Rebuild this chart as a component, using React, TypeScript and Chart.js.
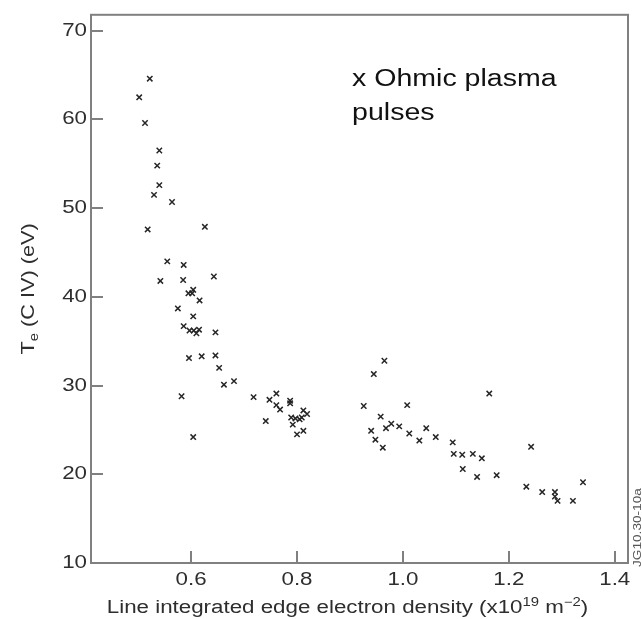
import React, { useEffect, useRef } from "react";
import { Chart, registerables } from "chart.js";

Chart.register(...registerables);

// ---- axis settings ----
const X_TICKS = [0.6, 0.8, 1.0, 1.2, 1.4];
const Y_TICKS = [10, 20, 30, 40, 50, 60, 70];
const X_MIN = 0.411;
const X_MAX = 1.425;
const Y_MIN = 10;
const Y_MAX = 71.8;

// ---- data: line integrated edge electron density (x1e19 m^-2) vs Te (eV) ----
const densityLow = [
  0.522, 0.502, 0.513, 0.54, 0.536, 0.54, 0.53, 0.564, 0.518, 0.626, 0.555, 0.586,
  0.542, 0.585, 0.643, 0.604, 0.595, 0.602, 0.616, 0.575, 0.604, 0.586, 0.597, 0.605,
  0.61, 0.615, 0.646, 0.596, 0.62, 0.646, 0.653, 0.662, 0.681, 0.582, 0.604,
];
const teLow = [
  64.6, 62.5, 59.6, 56.5, 54.8, 52.6, 51.5, 50.7, 47.6, 47.9, 44.0, 43.6,
  41.8, 41.9, 42.3, 40.8, 40.4, 40.4, 39.6, 38.7, 37.8, 36.7, 36.2, 36.2,
  35.9, 36.3, 36.0, 33.1, 33.3, 33.4, 32.0, 30.1, 30.5, 28.8, 24.2,
];

const densityMid = [
  0.718, 0.748, 0.761, 0.761, 0.768, 0.787, 0.787, 0.741, 0.812, 0.819, 0.789, 0.797,
  0.805, 0.809, 0.792, 0.812, 0.8,
];
const teMid = [
  28.7, 28.4, 29.1, 27.8, 27.3, 28.3, 28.0, 26.0, 27.2, 26.8, 26.4, 26.3,
  26.2, 26.4, 25.6, 24.9, 24.5,
];

const densityHigh = [
  0.965, 0.945, 0.926, 1.008, 0.958, 0.94, 0.968, 0.978, 0.993, 0.948, 0.962, 1.012,
  1.031, 1.044, 1.062, 1.094, 1.096, 1.112, 1.132, 1.149, 1.113, 1.14, 1.177, 1.163,
  1.242, 1.233, 1.263, 1.287, 1.287, 1.292, 1.321, 1.34,
];
const teHigh = [
  32.8, 31.3, 27.7, 27.8, 26.5, 24.9, 25.2, 25.7, 25.4, 23.9, 23.0, 24.6,
  23.8, 25.2, 24.2, 23.6, 22.3, 22.2, 22.3, 21.8, 20.6, 19.7, 19.9, 29.1,
  23.1, 18.6, 18.0, 18.0, 17.5, 17.0, 17.0, 19.1,
];

const ANNOTATION_LINES = ["x Ohmic plasma", "pulses"];
const ANNOTATION_X = 0.904;
const ANNOTATION_Y = [63.8, 59.9];
const FIGURE_ID = "JG10.30-10a";

// ---- style ----
const FONT = '"Liberation Sans", Arial, Helvetica, sans-serif';
const TEXT_COLOR = "#2e2e2e";
const AXIS_COLOR = "#808080";
const MARK_COLOR = "#262626";
const TEXT_STRETCH = 1.24;
const TICK_LEN = 12;

type Part = { t: string; size: number; dy: number };

function drawRich(ctx: CanvasRenderingContext2D, parts: Part[], x: number, y: number) {
  let cx = x;
  for (const p of parts) {
    ctx.font = `${p.size}px ${FONT}`;
    ctx.fillText(p.t, cx, y + p.dy);
    cx += ctx.measureText(p.t).width;
  }
}

function richWidth(ctx: CanvasRenderingContext2D, parts: Part[]) {
  let w = 0;
  for (const p of parts) {
    ctx.font = `${p.size}px ${FONT}`;
    w += ctx.measureText(p.t).width;
  }
  return w;
}

const framePlugin = {
  id: "frameAndText",
  beforeDraw(chart: any) {
    const { ctx } = chart;
    ctx.save();
    ctx.fillStyle = "#ffffff";
    ctx.fillRect(0, 0, chart.width, chart.height);
    ctx.restore();
  },
  afterDraw(chart: any) {
    const { ctx, chartArea: a, scales } = chart;
    ctx.save();
    // frame
    ctx.strokeStyle = AXIS_COLOR;
    ctx.lineWidth = 2;
    ctx.strokeRect(a.left, a.top, a.right - a.left, a.bottom - a.top);
    // inward tick marks
    ctx.beginPath();
    for (const v of X_TICKS) {
      const x = Math.round(scales.x.getPixelForValue(v));
      ctx.moveTo(x, a.bottom);
      ctx.lineTo(x, a.bottom - TICK_LEN);
    }
    for (const v of Y_TICKS) {
      const y = Math.round(scales.y.getPixelForValue(v));
      ctx.moveTo(a.left, y);
      ctx.lineTo(a.left + TICK_LEN, y);
    }
    ctx.stroke();

    // x axis title
    ctx.fillStyle = TEXT_COLOR;
    ctx.textAlign = "left";
    ctx.textBaseline = "alphabetic";
    const xTitle: Part[] = [
      { t: "Line integrated edge electron density (x10", size: 18, dy: 0 },
      { t: "19", size: 12, dy: -7 },
      { t: " m", size: 18, dy: 0 },
      { t: "\u22122", size: 12, dy: -7 },
      { t: ")", size: 18, dy: 0 },
    ];
    const xw = richWidth(ctx, xTitle);
    const xc = (a.left + a.right) / 2 - 12;
    drawRich(ctx, xTitle, xc - xw / 2, 612.5);

    // y axis title (rotated)
    const yTitle: Part[] = [
      { t: "T", size: 17.5, dy: 0 },
      { t: "e", size: 12, dy: 4 },
      { t: " (C IV) (eV)", size: 17.5, dy: 0 },
    ];
    const yw = richWidth(ctx, yTitle);
    const yc = (a.top + a.bottom) / 2;
    ctx.save();
    ctx.translate(34, yc);
    ctx.rotate(-Math.PI / 2);
    drawRich(ctx, yTitle, -yw / 2, 0);
    ctx.restore();

    // annotation
    ctx.fillStyle = "#111111";
    ctx.font = `23px ${FONT}`;
    const ax = scales.x.getPixelForValue(ANNOTATION_X);
    ANNOTATION_LINES.forEach((line, i) => {
      ctx.fillText(line, ax, scales.y.getPixelForValue(ANNOTATION_Y[i]));
    });

    // figure id
    ctx.save();
    ctx.fillStyle = "#555555";
    ctx.font = `11px ${FONT}`;
    ctx.translate(641, 567);
    ctx.rotate(-Math.PI / 2);
    ctx.textBaseline = "alphabetic";
    ctx.fillText(FIGURE_ID, 0, 0);
    ctx.restore();

    ctx.restore();
  },
};

export default function App() {
  const canvasRef = useRef<HTMLCanvasElement | null>(null);

  useEffect(() => {
    const canvas = canvasRef.current;
    if (!canvas) return;
    const ctx = canvas.getContext("2d") as any;
    // the figure's lettering is horizontally wide: stretch glyphs along the text direction
    const nativeFill = ctx.fillText;
    const nativeMeasure = ctx.measureText;
    ctx.fillText = function (text: string, x: number, y: number) {
      this.save();
      this.translate(x, y);
      this.scale(TEXT_STRETCH, 1);
      nativeFill.call(this, text, 0, 0);
      this.restore();
    };
    ctx.measureText = function (text: string) {
      const m = nativeMeasure.call(this, text);
      return {
        width: m.width * TEXT_STRETCH,
        actualBoundingBoxAscent: m.actualBoundingBoxAscent,
        actualBoundingBoxDescent: m.actualBoundingBoxDescent,
        actualBoundingBoxLeft: m.actualBoundingBoxLeft * TEXT_STRETCH,
        actualBoundingBoxRight: m.actualBoundingBoxRight * TEXT_STRETCH,
        fontBoundingBoxAscent: m.fontBoundingBoxAscent,
        fontBoundingBoxDescent: m.fontBoundingBoxDescent,
      };
    };

    const toPoints = (xs: number[], ys: number[]) => xs.map((x, i) => ({ x, y: ys[i] }));
    const markStyle = {
      pointStyle: "crossRot" as const,
      pointRadius: 3.8,
      pointBorderWidth: 1.5,
      pointBorderColor: MARK_COLOR,
      pointBackgroundColor: MARK_COLOR,
      showLine: false,
    };

    const chart = new Chart(canvas, {
      type: "scatter",
      data: {
        datasets: [
          { label: "low", data: toPoints(densityLow, teLow), ...markStyle },
          { label: "mid", data: toPoints(densityMid, teMid), ...markStyle },
          { label: "high", data: toPoints(densityHigh, teHigh), ...markStyle },
        ],
      },
      options: {
        animation: false,
        responsive: false,
        devicePixelRatio: 1,
        events: [],
        layout: { padding: { top: 7, right: 14, left: 0, bottom: 0 } },
        plugins: {
          legend: { display: false },
          tooltip: { enabled: false },
        },
        scales: {
          x: {
            type: "linear",
            min: X_MIN,
            max: X_MAX,
            grid: { display: false, drawTicks: false },
            border: { display: false },
            afterBuildTicks: (s: any) => {
              s.ticks = X_TICKS.map((value) => ({ value }));
            },
            afterFit: (s: any) => {
              s.height = 56;
            },
            ticks: {
              autoSkip: false,
              maxRotation: 0,
              padding: 6,
              color: TEXT_COLOR,
              font: { family: FONT, size: 18 },
              callback: (v: any) => Number(v).toFixed(1),
            },
          },
          y: {
            type: "linear",
            min: Y_MIN,
            max: Y_MAX,
            grid: { display: false, drawTicks: false },
            border: { display: false },
            afterBuildTicks: (s: any) => {
              s.ticks = Y_TICKS.map((value) => ({ value }));
            },
            afterFit: (s: any) => {
              s.width = 91;
            },
            ticks: {
              autoSkip: false,
              padding: 4,
              color: TEXT_COLOR,
              font: { family: FONT, size: 18 },
              callback: (v: any) => String(v),
            },
          },
        },
      },
      plugins: [framePlugin],
    });

    return () => {
      chart.destroy();
    };
  }, []);

  return (
    <div
      style={{
        position: "absolute",
        left: 0,
        top: 0,
        width: 642,
        height: 619,
        background: "#ffffff",
      }}
    >
      <canvas
        ref={canvasRef}
        width={642}
        height={619}
        style={{ width: 642, height: 619, display: "block" }}
      />
    </div>
  );
}
